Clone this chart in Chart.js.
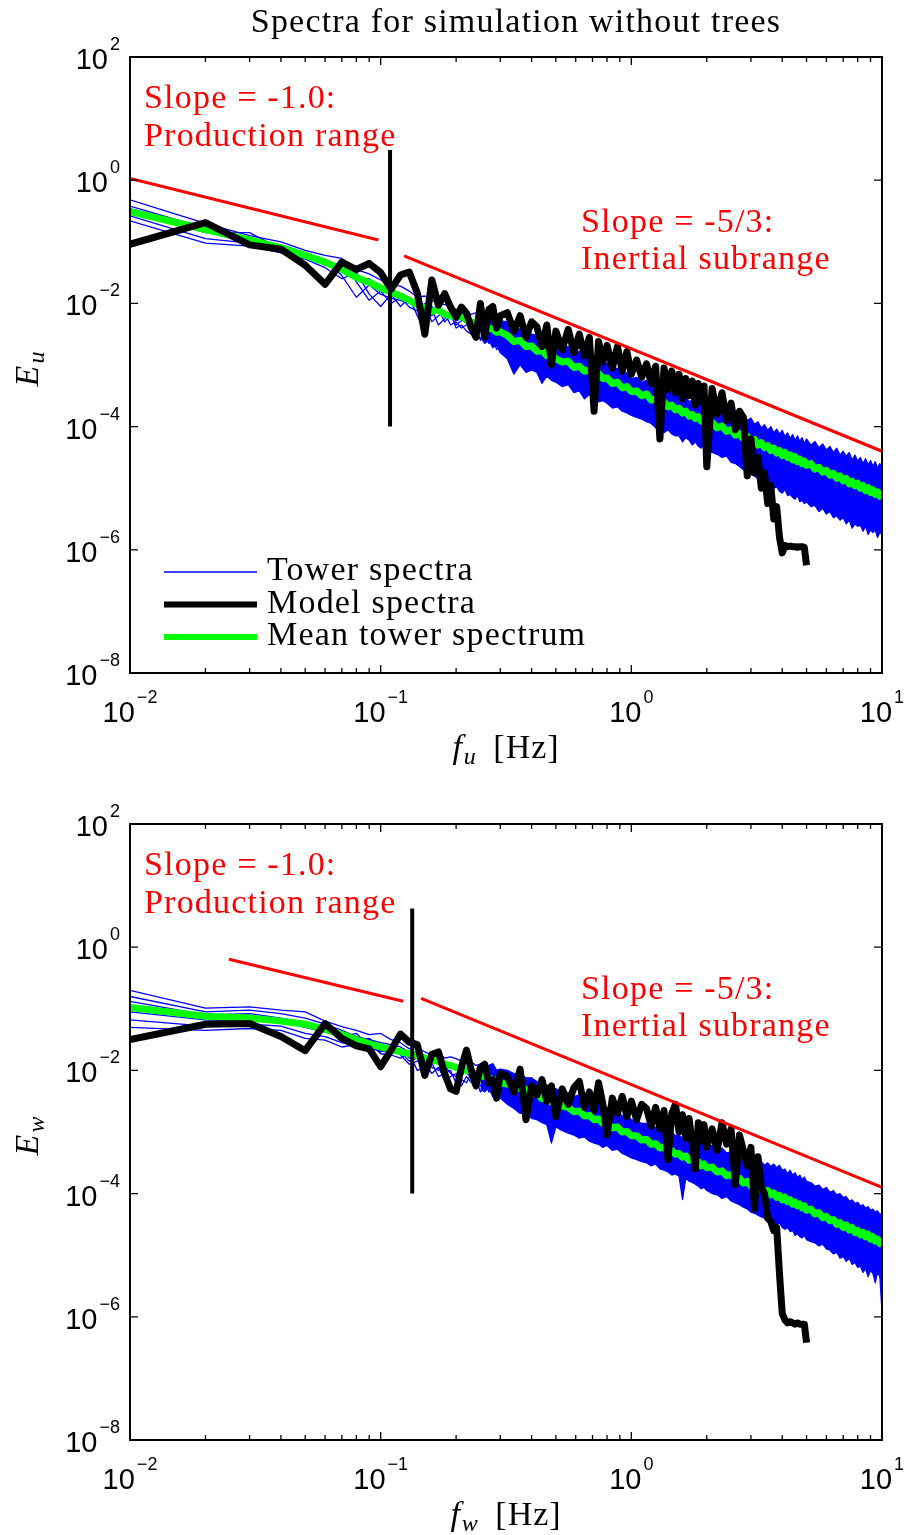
<!DOCTYPE html>
<html>
<head>
<meta charset="utf-8">
<title>Spectra for simulation without trees</title>
<script src="https://cdn.jsdelivr.net/npm/chart.js@4.4.1/dist/chart.umd.min.js"></script>
<style>
  html, body { margin: 0; padding: 0; background: #fff; }
  #wrap { position: relative; width: 906px; height: 1535px; }
  canvas { position: absolute; left: 0; }
  #specU { top: 0; }
  #specW { top: 768px; }
</style>
</head>
<body>
<div id="wrap">
  <canvas id="specU" width="906" height="768"></canvas>
  <canvas id="specW" width="906" height="767"></canvas>
</div>
<script>
// Frequency bins shared by all spectra [Hz]
const freqHz = [
  0.01, 0.02, 0.03, 0.04, 0.05, 0.06, 0.07, 0.08, 0.09, 0.10,
  0.11, 0.12, 0.13, 0.14, 0.15, 0.16, 0.17, 0.18, 0.19, 0.20,
  0.21, 0.22, 0.23, 0.24, 0.25, 0.26, 0.27, 0.28, 0.29, 0.30,
  0.32, 0.34, 0.36, 0.38, 0.40, 0.42, 0.44, 0.46, 0.48, 0.50,
  0.53, 0.56, 0.59, 0.62, 0.65, 0.68, 0.71, 0.74, 0.77, 0.80,
  0.84, 0.88, 0.92, 0.96, 1.00,
  1.05, 1.10, 1.15, 1.20, 1.25, 1.30, 1.35, 1.40, 1.45, 1.50,
  1.55, 1.60, 1.65, 1.70, 1.75, 1.80, 1.85, 1.90, 1.95, 2.00,
  2.1, 2.2, 2.3, 2.4, 2.5, 2.6, 2.7, 2.8, 2.9, 3.0,
  3.1, 3.2, 3.3, 3.4, 3.5, 3.6, 3.7, 3.8, 3.9, 4.0,
  4.1, 4.2, 4.3, 4.4, 4.5, 4.6, 4.7, 4.8, 4.9, 5.0,
  5.2, 5.4, 5.6, 5.8, 6.0, 6.2, 6.4, 6.6, 6.8, 7.0,
  7.2, 7.4, 7.6, 7.8, 8.0, 8.2, 8.4, 8.6, 8.8, 9.0,
  9.2, 9.4, 9.6, 9.8, 10.0
];
// tower min/max envelope starts at this bin (0.25 Hz)
const BAND_START = 24;

// ---- u component, all values are log10(E) ----
const modelLogU = [
  -1.04, -0.69, -1.05, -1.12, -1.38, -1.69, -1.33, -1.45, -1.35, -1.50,
  -1.77, -1.54, -1.49, -1.83, -2.50, -1.62, -2.03, -1.84, -2.06, -2.22,
  -2.06, -2.16, -2.40, -2.55, -2.00, -2.55, -2.10, -2.05, -2.40, -2.20,
  -2.15, -2.45, -2.20, -2.55, -2.30, -2.38, -2.70, -2.35, -3.00, -2.45,
  -2.75, -2.42, -2.80, -2.50, -2.85, -2.55, -3.75, -2.62, -2.95, -2.68,
  -3.05, -2.70, -3.10, -2.78, -3.15,
  -2.92, -3.20, -2.98, -3.30, -3.02, -4.20, -3.05, -3.40, -3.10, -3.45,
  -3.15, -3.55, -3.22, -3.50, -3.26, -3.65, -3.30, -3.60, -3.34, -4.65,
  -3.38, -3.80, -3.45, -3.90, -3.62, -4.05, -3.75, -3.85, -4.80, -4.20,
  -4.75, -4.50, -5.00, -4.75, -5.25, -4.95, -5.50, -5.30, -5.80, -6.05,
  -5.93, -5.95, -5.94, -5.95, -5.95, -5.96, -5.95, -5.95, -5.96, -6.25
];
const meanLogU = [
  -0.51, -0.80, -0.97, -1.10, -1.22, -1.33, -1.45, -1.58, -1.66, -1.75,
  -1.82, -1.88, -1.95, -2.02, -2.07, -2.13, -2.10, -2.18, -2.20, -2.22,
  -2.20, -2.27, -2.30, -2.32, -2.28, -2.36, -2.40, -2.42, -2.47, -2.46,
  -2.52, -2.62, -2.60, -2.70, -2.69, -2.78, -2.76, -2.85, -2.82, -2.90,
  -2.95, -2.94, -3.04, -3.02, -3.10, -3.08, -3.17, -3.14, -3.22, -3.21,
  -3.30, -3.28, -3.37, -3.35, -3.43,
  -3.42, -3.50, -3.47, -3.57, -3.55, -3.63, -3.60, -3.68, -3.65, -3.73,
  -3.70, -3.78, -3.75, -3.83, -3.80, -3.87, -3.84, -3.91, -3.88, -3.95,
  -3.93, -4.02, -3.99, -4.08, -4.05, -4.14, -4.11, -4.20, -4.16, -4.25,
  -4.21, -4.30, -4.26, -4.34, -4.31, -4.39, -4.35, -4.43, -4.39, -4.47,
  -4.42, -4.50, -4.46, -4.54, -4.49, -4.57, -4.53, -4.60, -4.56, -4.63,
  -4.60, -4.69, -4.66, -4.74, -4.71, -4.79, -4.76, -4.84, -4.80, -4.88,
  -4.84, -4.93, -4.89, -4.96, -4.92, -5.00, -4.96, -5.04, -4.99, -5.07,
  -5.03, -5.10, -5.06, -5.13, -5.10
];
// single tower spectra, 0.01 - 0.30 Hz
const towerU1 = [-0.32, -0.70, -0.90, -1.00, -1.14, -1.22, -1.27, -1.45, -1.52, -1.62, -1.70, -1.72, -1.80, -1.90, -1.88, -1.95, -2.00, -2.02, -2.05, -2.10, -2.08, -2.12, -2.18, -2.15, -2.20, -2.25, -2.22, -2.28, -2.30, -2.35];
const towerU2 = [-0.42, -0.78, -0.95, -1.05, -1.18, -1.30, -1.40, -1.55, -1.65, -1.72, -1.78, -1.85, -1.92, -2.00, -2.10, -2.05, -2.15, -2.12, -2.25, -2.20, -2.18, -2.30, -2.28, -2.35, -2.32, -2.40, -2.45, -2.38, -2.50, -2.48];
const towerU3 = [-0.50, -0.85, -0.85, -1.12, -1.25, -1.28, -1.55, -1.90, -1.70, -1.85, -1.92, -1.95, -2.00, -1.98, -2.25, -2.15, -2.10, -2.30, -2.20, -2.35, -2.28, -2.25, -2.40, -2.45, -2.38, -2.35, -2.55, -2.50, -2.45, -2.60];
const towerU4 = [-0.58, -0.95, -1.02, -1.08, -1.22, -1.38, -1.35, -1.65, -1.95, -1.80, -2.00, -1.90, -2.06, -2.12, -2.00, -2.30, -2.20, -2.15, -2.35, -2.30, -2.40, -2.35, -2.30, -2.55, -2.45, -2.50, -2.40, -2.65, -2.55, -2.50];
const towerU5 = [-0.66, -1.02, -1.07, -1.18, -1.28, -1.42, -1.60, -1.50, -1.85, -2.05, -1.85, -2.05, -1.90, -2.20, -2.45, -2.10, -2.35, -2.25, -2.15, -2.40, -2.35, -2.45, -2.50, -2.40, -2.60, -2.45, -2.65, -2.55, -2.75, -2.65];
const towerU6 = [-0.46, -0.76, -1.00, -1.10, -1.20, -1.35, -1.45, -1.60, -1.60, -1.75, -1.85, -1.88, -1.98, -2.05, -2.05, -2.20, -2.08, -2.22, -2.20, -2.28, -2.25, -2.22, -2.35, -2.30, -2.28, -2.42, -2.38, -2.45, -2.42, -2.55];
// upper / lower edge of all tower spectra, 0.25 - 10 Hz
const towerHiU = [
  -2.08, -2.18, -2.15, -2.22, -2.20, -2.28,
  -2.30, -2.36, -2.42, -2.40, -2.50, -2.52, -2.58, -2.55, -2.66, -2.62,
  -2.72, -2.70, -2.80, -2.78, -2.86, -2.84, -2.92, -2.88, -3.00, -2.96,
  -3.08, -3.05, -3.15, -3.12, -3.22,
  -3.20, -3.28, -3.25, -3.34, -3.30, -3.40, -3.38, -3.45, -3.42, -3.52,
  -3.48, -3.55, -3.50, -3.60, -3.56, -3.65, -3.60, -3.68, -3.62, -3.72,
  -3.68, -3.76, -3.70, -3.80, -3.76, -3.85, -3.80, -3.80, -3.90, -3.86,
  -3.96, -3.92, -4.02, -3.97, -4.06, -4.00, -4.10, -4.04, -4.12, -4.06,
  -4.16, -4.10, -4.19, -4.13, -4.22, -4.15, -4.24, -4.18, -4.27, -4.20,
  -4.30, -4.24, -4.34, -4.28, -4.38, -4.32, -4.42, -4.35, -4.46, -4.40,
  -4.48, -4.42, -4.54, -4.46, -4.56, -4.50, -4.60, -4.52, -4.62, -4.55,
  -4.64, -4.57, -4.67, -4.60, -4.66
];
const towerLoU = [
  -2.55, -2.65, -2.60, -2.72, -2.68, -2.80,
  -2.90, -3.15, -3.00, -3.12, -3.08, -3.12, -3.30, -3.18, -3.25, -3.28,
  -3.35, -3.32, -3.45, -3.42, -3.55, -3.48, -3.52, -3.60, -3.58, -3.62,
  -3.70, -3.68, -3.75, -3.78, -3.82,
  -3.85, -3.88, -3.92, -3.95, -4.02, -4.00, -4.10, -4.05, -4.12, -4.15,
  -4.15, -4.25, -4.18, -4.22, -4.30, -4.25, -4.32, -4.35, -4.30, -4.40,
  -4.42, -4.45, -4.50, -4.48, -4.58, -4.60, -4.65, -4.70, -4.72, -4.78,
  -4.80, -4.85, -4.88, -4.85, -4.95, -4.92, -5.00, -4.98, -5.05, -5.08,
  -5.02, -5.12, -5.10, -5.15, -5.18, -5.12, -5.22, -5.20, -5.25, -5.22,
  -5.30, -5.28, -5.38, -5.33, -5.42, -5.38, -5.48, -5.45, -5.52, -5.48,
  -5.58, -5.52, -5.65, -5.58, -5.62, -5.60, -5.70, -5.62, -5.75, -5.68,
  -5.72, -5.68, -5.80, -5.72, -5.75
];
// reference slopes and the cut-off marker
const prodFreqU = [0.01, 0.098];
const prodLogU = [0.03, -0.97];
const inerFreqU = [0.124, 10];
const inerLogU = [-1.23, -4.40];
const cutFreqU = 0.109;
const cutLogU = [-4, 0.49];

// ---- w component, all values are log10(E) ----
const modelLogW = [
  -1.50, -1.25, -1.24, -1.45, -1.68, -1.24, -1.48, -1.60, -1.65, -1.94,
  -1.67, -1.41, -1.54, -1.58, -2.08, -1.74, -1.70, -2.05, -2.30, -2.34,
  -1.95, -1.67, -2.00, -2.25, -1.95, -1.90, -2.20, -2.15, -2.45, -2.05,
  -2.10, -2.35, -1.98, -2.80, -2.25, -2.40, -2.15, -2.50, -2.25, -2.75,
  -2.30, -2.55, -2.28, -2.18, -2.60, -2.35, -2.65, -2.20, -2.55, -3.05,
  -2.45, -2.70, -2.42, -2.75, -2.50,
  -2.80, -2.55, -2.62, -2.90, -2.60, -2.95, -2.65, -3.45, -2.70, -2.55,
  -3.00, -2.72, -3.10, -2.78, -3.20, -3.60, -2.85, -3.15, -2.88, -3.25,
  -2.95, -3.30, -2.85, -3.20, -2.95, -3.85, -3.05, -3.30, -3.55, -3.25,
  -4.25, -3.40, -3.90, -4.00, -4.40, -4.45, -4.60, -4.55, -5.30, -5.95,
  -6.05, -6.10, -6.08, -6.10, -6.12, -6.10, -6.12, -6.12, -6.12, -6.42
];
const meanLogW = [
  -0.98, -1.12, -1.15, -1.20, -1.25, -1.33, -1.42, -1.50, -1.57, -1.62,
  -1.66, -1.70, -1.73, -1.76, -1.80, -1.84, -1.85, -1.90, -1.92, -1.95,
  -1.97, -2.00, -2.02, -2.05, -2.08, -2.10, -2.12, -2.15, -2.17, -2.20,
  -2.22, -2.25, -2.30, -2.31, -2.38, -2.37, -2.46, -2.44, -2.52, -2.50,
  -2.58, -2.60, -2.67, -2.66, -2.74, -2.73, -2.80, -2.79, -2.86, -2.85,
  -2.93, -2.92, -3.00, -2.99, -3.06,
  -3.06, -3.13, -3.12, -3.20, -3.19, -3.26, -3.24, -3.31, -3.30, -3.36,
  -3.35, -3.41, -3.39, -3.46, -3.44, -3.50, -3.48, -3.55, -3.52, -3.58,
  -3.57, -3.65, -3.63, -3.71, -3.69, -3.77, -3.75, -3.83, -3.80, -3.88,
  -3.85, -3.93, -3.90, -3.97, -3.95, -4.02, -3.99, -4.06, -4.03, -4.10,
  -4.06, -4.13, -4.10, -4.17, -4.14, -4.20, -4.17, -4.23, -4.20, -4.27,
  -4.25, -4.33, -4.31, -4.39, -4.37, -4.44, -4.42, -4.50, -4.47, -4.55,
  -4.51, -4.59, -4.55, -4.63, -4.60, -4.67, -4.63, -4.70, -4.66, -4.74,
  -4.70, -4.77, -4.74, -4.81, -4.78
];
const towerW1 = [-0.70, -0.99, -0.97, -1.02, -1.05, -1.20, -1.29, -1.35, -1.42, -1.40, -1.50, -1.55, -1.65, -1.62, -1.70, -1.75, -1.72, -1.80, -1.78, -1.81, -1.85, -1.88, -1.86, -1.92, -1.90, -1.95, -1.92, -1.89, -2.00, -1.98];
const towerW2 = [-0.80, -1.05, -1.02, -1.08, -1.15, -1.25, -1.35, -1.45, -1.50, -1.55, -1.58, -1.62, -1.70, -1.75, -1.78, -1.80, -1.85, -1.88, -1.95, -1.92, -2.00, -1.98, -2.05, -2.02, -2.08, -2.05, -2.12, -2.10, -2.15, -2.12];
const towerW3 = [-0.88, -1.10, -1.08, -1.15, -1.22, -1.30, -1.40, -1.52, -1.48, -1.62, -1.68, -1.66, -1.80, -1.72, -1.85, -1.90, -1.82, -1.95, -1.90, -2.00, -1.95, -2.05, -2.10, -2.00, -2.15, -2.18, -2.08, -2.20, -2.25, -2.18];
const towerW4 = [-1.05, -1.18, -1.20, -1.20, -1.30, -1.38, -1.45, -1.40, -1.60, -1.70, -1.62, -1.75, -1.90, -1.85, -1.80, -1.95, -2.00, -1.92, -2.05, -2.10, -2.08, -2.00, -2.15, -2.20, -2.12, -2.25, -2.22, -2.30, -2.20, -2.35];
const towerW5 = [-1.18, -1.28, -1.25, -1.28, -1.40, -1.45, -1.55, -1.60, -1.55, -1.73, -1.75, -1.80, -1.72, -2.00, -1.95, -1.88, -2.10, -2.05, -2.00, -2.21, -2.15, -2.20, -2.05, -2.30, -2.25, -2.15, -2.35, -2.28, -2.43, -2.30];
const towerW6 = [-1.30, -1.35, -1.32, -1.35, -1.48, -1.51, -1.62, -1.58, -1.65, -1.68, -1.72, -1.70, -1.85, -1.80, -1.90, -2.05, -1.95, -2.15, -2.10, -2.05, -2.25, -2.10, -2.20, -2.15, -2.35, -2.28, -2.30, -2.40, -2.35, -2.45];
const towerHiW = [
  -1.88, -1.95, -1.92, -1.90, -2.00, -1.98,
  -2.00, -2.05, -2.06, -2.12, -2.12, -2.18, -2.20, -2.24, -2.25, -2.30,
  -2.34, -2.36, -2.42, -2.40, -2.48, -2.48, -2.55, -2.52, -2.60, -2.60,
  -2.66, -2.66, -2.74, -2.72, -2.80,
  -2.82, -2.86, -2.86, -2.92, -2.92, -2.98, -2.95, -3.02, -3.00, -3.06,
  -3.05, -3.10, -3.08, -3.14, -3.12, -3.18, -3.14, -3.20, -3.18, -3.24,
  -3.22, -3.30, -3.26, -3.34, -3.32, -3.40, -3.36, -3.44, -3.40, -3.48,
  -3.45, -3.50, -3.48, -3.54, -3.50, -3.56, -3.52, -3.58, -3.54, -3.62,
  -3.60, -3.68, -3.62, -3.70, -3.66, -3.74, -3.70, -3.77, -3.73, -3.80,
  -3.82, -3.88, -3.86, -3.93, -3.90, -3.98, -3.95, -4.02, -4.00, -4.06,
  -4.05, -4.12, -4.10, -4.16, -4.14, -4.20, -4.18, -4.24, -4.21, -4.27,
  -4.25, -4.30, -4.28, -4.34, -4.32
];
const towerLoW = [
  -2.30, -2.35, -2.28, -2.43, -2.38, -2.45,
  -2.55, -2.62, -2.70, -2.68, -2.78, -2.80, -2.85, -2.88, -3.18, -2.92,
  -2.98, -3.02, -3.05, -3.10, -3.08, -3.15, -3.18, -3.20, -3.25, -3.22,
  -3.30, -3.28, -3.35, -3.38, -3.42,
  -3.45, -3.48, -3.50, -3.55, -3.52, -3.60, -3.62, -3.65, -3.70, -3.68,
  -3.72, -4.10, -3.75, -3.80, -3.82, -3.85, -3.88, -3.92, -3.90, -3.95,
  -4.00, -4.02, -4.08, -4.05, -4.12, -4.15, -4.18, -4.22, -4.25, -4.30,
  -4.32, -4.35, -4.38, -4.40, -4.42, -4.45, -4.48, -4.50, -4.48, -4.55,
  -4.58, -4.55, -4.62, -4.60, -4.68, -4.65, -4.70, -4.72, -4.68, -4.75,
  -4.78, -4.80, -4.85, -4.82, -4.90, -4.92, -4.98, -4.95, -5.05, -5.02,
  -5.10, -5.05, -5.15, -5.12, -5.20, -5.18, -5.28, -5.22, -5.35, -5.25,
  -5.30, -5.45, -5.28, -5.35, -5.92
];
const prodFreqW = [0.0248, 0.123];
const prodLogW = [-0.195, -0.877];
const inerFreqW = [0.145, 10];
const inerLogW = [-0.83, -3.90];
const cutFreqW = 0.1336;
const cutLogW = [-4, 0.63];

// axis ticks (powers of ten)
const xTickExp = [-2, -1, 0, 1];
const yTickExp = [-8, -6, -4, -2, 0, 2];
const minorMult = [2, 3, 4, 5, 6, 7, 8, 9];

// texts
const titleText = 'Spectra for simulation without trees';
const noteText = ['Slope = -1.0:', 'Production range', 'Slope = -5/3:', 'Inertial subrange'];
const legendLabels = ['Tower spectra', 'Model spectra', 'Mean tower spectrum'];

// layout (pixels relative to the plot box)
const notePos = [[14, 51], [14, 89], [451, 175], [451, 212]];
const legendLineWidth = [1.3, 6, 6];
const SERIF = "'Liberation Serif', 'Times New Roman', serif";
const SANS = "'Liberation Sans', Arial, sans-serif";
const SERIF_FONT = '34px ' + SERIF;

const pts = (freqs, logs) => logs.map((v, i) => ({ x: freqs[i], y: Math.pow(10, v) }));

// "10" with a superscript exponent, MATLAB style
function powerLabel(ctx, exp, x, y, align) {
  const sup = exp < 0 ? '\u2212' + Math.abs(exp) : String(exp);
  ctx.font = '29px ' + SANS;
  const wb = ctx.measureText('10').width;
  ctx.font = '18px ' + SANS;
  const ws = ctx.measureText(sup).width;
  const w = wb + 2 + ws;
  const left = align === 'right' ? x - w : x - w / 2;
  ctx.font = '29px ' + SANS;
  ctx.fillText('10', left, y);
  ctx.font = '18px ' + SANS;
  ctx.fillText(sup, left + wb + 2, y - 19);
}

// italic symbol with italic subscript, then plain text; centred on x
function symbolLabel(ctx, sym, sub, rest, x, y) {
  const symFont = 'italic ' + SERIF_FONT;
  const subFont = 'italic 24px ' + SERIF;
  ctx.font = symFont;
  const w1 = ctx.measureText(sym).width;
  ctx.font = subFont;
  const w2 = ctx.measureText(sub).width + 8;
  ctx.font = SERIF_FONT;
  const w3 = rest ? ctx.measureText(rest).width : 0;
  let left = x - (w1 + w2 + w3) / 2;
  ctx.font = symFont;
  ctx.fillText(sym, left, y);
  ctx.font = subFont;
  ctx.fillText(sub, left + w1 + 1, y + 6);
  if (rest) {
    ctx.font = SERIF_FONT;
    ctx.fillText(rest, left + w1 + w2, y);
  }
}

function makeDecor(panel) {
  return {
    id: 'decor_' + panel.sub,
    afterDraw(chart) {
      const { ctx, chartArea: a, scales: { x, y } } = chart;
      ctx.save();
      ctx.strokeStyle = '#000';
      ctx.fillStyle = '#000';
      ctx.textAlign = 'left';
      ctx.textBaseline = 'alphabetic';

      // axes box
      ctx.lineWidth = 2;
      ctx.strokeRect(a.left, a.top, a.right - a.left, a.bottom - a.top);

      // inward ticks
      ctx.lineWidth = 1.3;
      ctx.beginPath();
      xTickExp.forEach((e, i) => {
        const px = x.getPixelForValue(Math.pow(10, e));
        ctx.moveTo(px, a.bottom); ctx.lineTo(px, a.bottom - 8);
        ctx.moveTo(px, a.top); ctx.lineTo(px, a.top + 8);
        if (i === xTickExp.length - 1) return;
        minorMult.forEach(m => {
          const mx = x.getPixelForValue(m * Math.pow(10, e));
          ctx.moveTo(mx, a.bottom); ctx.lineTo(mx, a.bottom - 5);
          ctx.moveTo(mx, a.top); ctx.lineTo(mx, a.top + 5);
        });
      });
      yTickExp.forEach(e => {
        const py = y.getPixelForValue(Math.pow(10, e));
        ctx.moveTo(a.left, py); ctx.lineTo(a.left + 8, py);
        ctx.moveTo(a.right, py); ctx.lineTo(a.right - 8, py);
      });
      ctx.stroke();

      // tick labels
      xTickExp.forEach(e => powerLabel(ctx, e, x.getPixelForValue(Math.pow(10, e)), a.bottom + 49, 'center'));
      yTickExp.forEach(e => powerLabel(ctx, e, a.left - 10, y.getPixelForValue(Math.pow(10, e)) + 12, 'right'));

      // axis labels
      ctx.letterSpacing = '1px';
      symbolLabel(ctx, 'f', panel.sub, ' [Hz]', (a.left + a.right) / 2, a.bottom + 85);
      ctx.save();
      ctx.translate(a.left - 92, (a.top + a.bottom) / 2);
      ctx.rotate(-Math.PI / 2);
      symbolLabel(ctx, 'E', panel.sub, '', 0, 0);
      ctx.restore();

      // slope annotations
      ctx.letterSpacing = '1.2px';
      ctx.font = SERIF_FONT;
      ctx.fillStyle = '#ff0000';
      noteText.forEach((t, i) => ctx.fillText(t, a.left + notePos[i][0], a.top + notePos[i][1]));
      ctx.fillStyle = '#000';

      if (panel.title) {
        ctx.textAlign = 'center';
        ctx.fillText(titleText, 516, 32);
        ctx.textAlign = 'left';
      }

      if (panel.legend) {
        legendLabels.forEach((label, i) => {
          const ds = chart.data.datasets.find(d => d.label === label);
          const ly = a.top + 515 + i * 32.5;
          ctx.strokeStyle = ds.borderColor;
          ctx.lineWidth = legendLineWidth[i];
          ctx.beginPath();
          ctx.moveTo(a.left + 34, ly);
          ctx.lineTo(a.left + 127, ly);
          ctx.stroke();
          ctx.fillText(label, a.left + 137, ly + 8);
        });
      }
      ctx.restore();
    }
  };
}

function spectraDatasets(p) {
  const bandFreq = freqHz.slice(BAND_START);
  const sets = [
    { label: 'cut-off', data: pts([p.cutFreq, p.cutFreq], p.cutLog), borderColor: '#000', borderWidth: 4 },
    { label: 'slope -1', data: pts(p.prodFreq, p.prodLog), borderColor: '#ff0000', borderWidth: 3 },
    { label: 'slope -5/3', data: pts(p.inerFreq, p.inerLog), borderColor: '#ff0000', borderWidth: 3 },
    { label: 'Model spectra', data: pts(freqHz, p.model), borderColor: '#000', borderWidth: 7 },
    { label: 'Mean tower spectrum', data: pts(freqHz, p.mean), borderColor: '#00ff00', borderWidth: 7 },
    { label: 'tower max', data: pts(bandFreq, p.hi), borderColor: '#0000ff', borderWidth: 1.2, fill: '+1', backgroundColor: '#0000ff' },
    { label: 'tower min', data: pts(bandFreq, p.lo), borderColor: '#0000ff', borderWidth: 1.2 }
  ];
  p.towers.forEach((t, i) => {
    sets.push({ label: i === 0 ? 'Tower spectra' : 'tower ' + (i + 1), data: pts(freqHz, t), borderColor: '#0000ff', borderWidth: 1.3 });
  });
  return sets.map(s => Object.assign({ pointRadius: 0, tension: 0, fill: false, borderJoinStyle: 'round' }, s));
}

function drawPanel(canvasId, p, pad) {
  return new Chart(document.getElementById(canvasId), {
    type: 'line',
    data: { datasets: spectraDatasets(p) },
    options: {
      responsive: false,
      animation: false,
      devicePixelRatio: 1,
      layout: { padding: pad },
      plugins: { legend: { display: false }, tooltip: { enabled: false } },
      scales: {
        x: { type: 'logarithmic', min: 0.01, max: 10, display: false },
        y: { type: 'logarithmic', min: 1e-8, max: 100, display: false }
      }
    },
    plugins: [makeDecor(p)]
  });
}

drawPanel('specU', {
  sub: 'u', model: modelLogU, mean: meanLogU, hi: towerHiU, lo: towerLoU,
  towers: [towerU1, towerU2, towerU3, towerU4, towerU5, towerU6],
  prodFreq: prodFreqU, prodLog: prodLogU, inerFreq: inerFreqU, inerLog: inerLogU,
  cutFreq: cutFreqU, cutLog: cutLogU, title: true, legend: true
}, { left: 130, right: 24, top: 57, bottom: 95 });

drawPanel('specW', {
  sub: 'w', model: modelLogW, mean: meanLogW, hi: towerHiW, lo: towerLoW,
  towers: [towerW1, towerW2, towerW3, towerW4, towerW5, towerW6],
  prodFreq: prodFreqW, prodLog: prodLogW, inerFreq: inerFreqW, inerLog: inerLogW,
  cutFreq: cutFreqW, cutLog: cutLogW, title: false, legend: false
}, { left: 130, right: 24, top: 56, bottom: 95 });
</script>
</body>
</html>
